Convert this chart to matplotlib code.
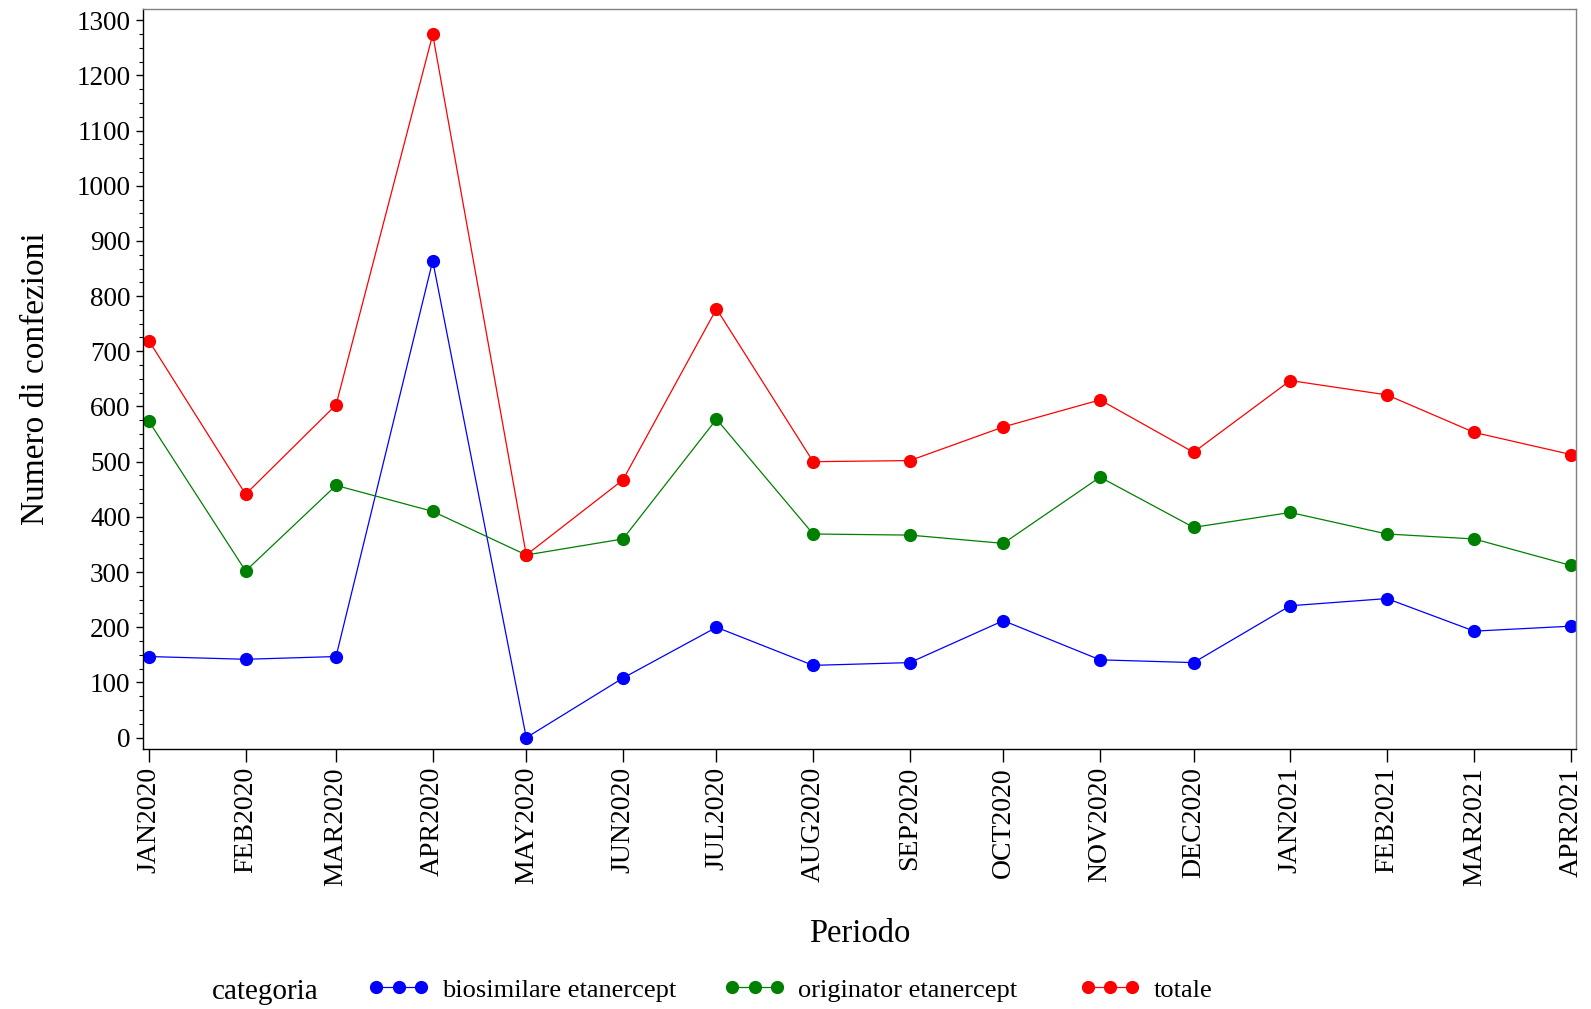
import datetime as dt
import matplotlib
matplotlib.use("Agg")
import matplotlib.pyplot as plt
from matplotlib.ticker import MultipleLocator
from matplotlib.lines import Line2D

plt.rcParams["font.family"] = ["Liberation Serif", "DejaVu Serif"]

periods = ["JAN2020", "FEB2020", "MAR2020", "APR2020", "MAY2020", "JUN2020",
           "JUL2020", "AUG2020", "SEP2020", "OCT2020", "NOV2020", "DEC2020",
           "JAN2021", "FEB2021", "MAR2021", "APR2021"]
dates = [dt.datetime.strptime(p, "%b%Y") for p in periods]

biosimilare = [147, 142, 147, 864, 0, 108, 200, 131, 136, 212, 141, 136, 239, 252, 193, 202]
originator = [573, 302, 457, 410, 331, 360, 577, 369, 367, 352, 472, 381, 408, 369, 360, 312]
totale = [719, 441, 603, 1274, 331, 467, 777, 500, 502, 563, 612, 517, 647, 621, 553, 513]

series = [
    ("biosimilare etanercept", biosimilare, "#0000FF"),
    ("originator etanercept", originator, "#008000"),
    ("totale", totale, "#FF0000"),
]

fig = plt.figure(figsize=(15.91, 10.09), dpi=100)
ax = fig.add_axes([0.0899, 0.2577, 0.9006, 0.7333])

for label, vals, col in series:
    ax.plot(dates, vals, color=col, lw=0.9, marker="o", ms=8.5, mec=col, mfc=col, label=label)

ax.set_xlim(dates[0] - dt.timedelta(days=1.9), dates[-1] + dt.timedelta(days=1.6))
ax.set_ylim(-20.5, 1320)
ax.set_xticks(dates)
ax.set_xticklabels(periods, rotation=90, fontsize=20)
ax.yaxis.set_major_locator(MultipleLocator(100))
ax.yaxis.set_minor_locator(MultipleLocator(25))
ax.tick_params(axis="y", which="major", length=5, width=1, labelsize=19.5, pad=4)
ax.tick_params(axis="y", which="minor", length=3, width=0.8)
ax.tick_params(axis="x", which="major", length=9, width=1, pad=4)

for s in ["top", "right"]:
    ax.spines[s].set_color("#808080")
    ax.spines[s].set_linewidth(1.0)
for s in ["left", "bottom"]:
    ax.spines[s].set_linewidth(1.0)

ax.set_ylabel("Numero di confezioni", fontsize=24, labelpad=18)
ax.set_xlabel("Periodo", fontsize=23.5, labelpad=24)

fig.text(0.1333, 0.017, "categoria", fontsize=21, va="center")
anchors = [0.2315, 0.4554, 0.6786]
for (label, _, c), x0 in zip(series, anchors):
    h = Line2D([0], [0], color=c, lw=0.9, marker="o", ms=8.5, mfc=c, mec=c)
    leg = fig.legend([h], [label], loc="center left", bbox_to_anchor=(x0, 0.019),
                     numpoints=3, frameon=False, fontsize=19, handlelength=2.3,
                     handletextpad=0.5, borderpad=0, borderaxespad=0)

fig.savefig("out.png", dpi=100)
